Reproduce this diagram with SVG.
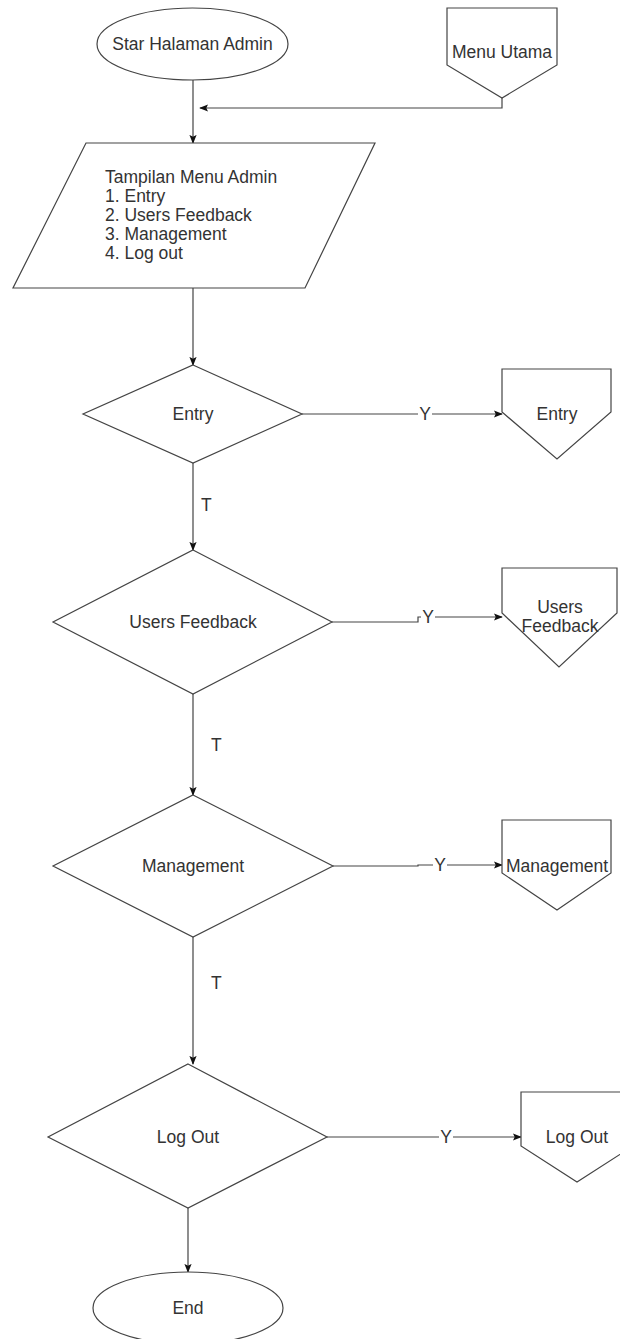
<svg xmlns="http://www.w3.org/2000/svg" width="620" height="1339" viewBox="0 0 620 1339">
<defs>
<marker id="arr" viewBox="0 0 10 10" refX="9" refY="5" markerWidth="9" markerHeight="9" markerUnits="userSpaceOnUse" orient="auto">
<path d="M0,1 L10,5 L0,9 L2,5 Z" fill="#111"/>
</marker>
</defs>
<style>
.s{fill:#fff;stroke:#444;stroke-width:1.2}
.c{fill:none;stroke:#444;stroke-width:1.2}
text{font-family:"Liberation Sans",Arial,sans-serif;font-size:17.5px;fill:#333}
.m{text-anchor:middle}
.lb{fill:#fff}
</style>
<rect width="620" height="1339" fill="#fff"/>
<g id="connectors">
<path class="c" d="M193,80 L193,143" marker-end="url(#arr)"/>
<path class="c" d="M502,98 L502,108 L200,108" marker-end="url(#arr)"/>
<path class="c" d="M193,288 L193,365" marker-end="url(#arr)"/>
<path class="c" d="M302,414 L502,414" marker-end="url(#arr)"/>
<path class="c" d="M193,463 L193,550" marker-end="url(#arr)"/>
<path class="c" d="M332,622 L418,622 L418,617 L502,617" marker-end="url(#arr)"/>
<path class="c" d="M193,694 L193,795" marker-end="url(#arr)"/>
<path class="c" d="M333,866 L418,866 L418,865 L502,865" marker-end="url(#arr)"/>
<path class="c" d="M193,937 L193,1064" marker-end="url(#arr)"/>
<path class="c" d="M327,1137 L521,1137" marker-end="url(#arr)"/>
<path class="c" d="M188,1208 L188,1272" marker-end="url(#arr)"/>
<rect class="lb" x="418" y="404" width="14" height="20"/>
<text class="m" x="425" y="420">Y</text>
<rect class="lb" x="421" y="607" width="14" height="20"/>
<text class="m" x="428" y="623">Y</text>
<rect class="lb" x="433" y="855" width="14" height="20"/>
<text class="m" x="440" y="871">Y</text>
<rect class="lb" x="439" y="1127" width="14" height="20"/>
<text class="m" x="446" y="1143">Y</text>
<text x="201" y="511">T</text>
<text x="211" y="751">T</text>
<text x="211" y="989">T</text>
</g>
<g id="start">
<ellipse class="s" cx="192.5" cy="44" rx="95.5" ry="36"/>
<text class="m" x="192.5" y="50">Star Halaman Admin</text>
</g>
<g id="menu-utama">
<path class="s" d="M447,8 L557,8 L557,65 L502,98 L447,65 Z"/>
<text class="m" x="502" y="58">Menu Utama</text>
</g>
<g id="tampilan">
<path class="s" d="M86,143 L375,143 L305,288 L13,288 Z"/>
<text x="105" y="183">Tampilan Menu Admin</text>
<text x="105" y="202">1. Entry</text>
<text x="105" y="221">2. Users Feedback</text>
<text x="105" y="240">3. Management</text>
<text x="105" y="259">4. Log out</text>
</g>
<g id="d-entry">
<path class="s" d="M193,365 L302,414 L193,463 L83,414 Z"/>
<text class="m" x="193" y="420">Entry</text>
</g>
<g id="o-entry">
<path class="s" d="M502,369 L611,369 L611,412 L557,459 L502,412 Z"/>
<text class="m" x="557" y="420">Entry</text>
</g>
<g id="d-users">
<path class="s" d="M193,550 L332,622 L193,694 L53,622 Z"/>
<text class="m" x="193" y="628">Users Feedback</text>
</g>
<g id="o-users">
<path class="s" d="M502,568 L617,568 L617,613 L559,667 L502,613 Z"/>
<text class="m" x="560" y="613">Users</text>
<text class="m" x="560" y="632">Feedback</text>
</g>
<g id="d-management">
<path class="s" d="M193,795 L333,866 L193,937 L53,866 Z"/>
<text class="m" x="193" y="872">Management</text>
</g>
<g id="o-management">
<path class="s" d="M502,820 L611,820 L611,873 L557,910 L502,873 Z"/>
<text class="m" x="557" y="872">Management</text>
</g>
<g id="d-logout">
<path class="s" d="M188,1064 L327,1137 L188,1208 L48,1137 Z"/>
<text class="m" x="188" y="1143">Log Out</text>
</g>
<g id="o-logout">
<path class="s" d="M521,1092 L633,1092 L633,1146 L577,1182 L521,1146 Z"/>
<text class="m" x="577" y="1143">Log Out</text>
</g>
<g id="end">
<ellipse class="s" cx="188" cy="1308" rx="95" ry="36"/>
<text class="m" x="188" y="1314">End</text>
</g>
</svg>
